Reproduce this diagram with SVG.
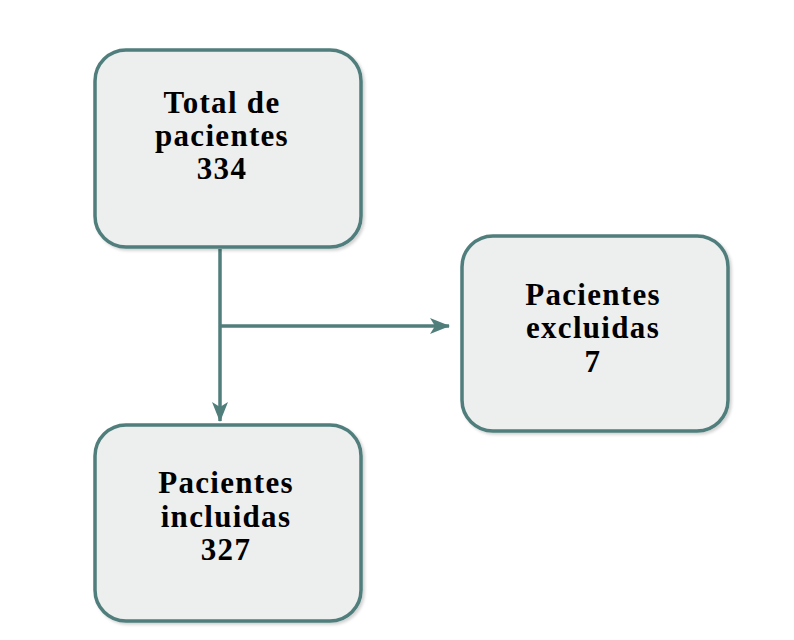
<svg xmlns="http://www.w3.org/2000/svg" width="794" height="640" viewBox="0 0 794 640">
<style>
.box{fill:#edeeee;stroke:#4f7e7b;stroke-width:3.5}
.lbl{font-family:"Liberation Serif","Times New Roman",serif;font-weight:bold;font-size:31px;letter-spacing:1.3px;fill:#000;text-anchor:middle}
.conn{stroke:#4f7e7b;stroke-width:3.5;fill:none}
</style>
<defs>
<filter id="sh" x="-10%" y="-10%" width="120%" height="120%">
<feDropShadow dx="2" dy="2" stdDeviation="1.5" flood-color="#000" flood-opacity="0.18"/>
</filter>
<marker id="ah" viewBox="0 0 20 16" refX="19" refY="8" markerWidth="20" markerHeight="16" markerUnits="userSpaceOnUse" orient="auto">
<path d="M0,0 L20,8 L0,16 L5,8 Z" fill="#4f7e7b"/>
</marker>
</defs>
<rect width="794" height="640" fill="#fff"/>
<g id="connectors">
<path class="conn" d="M220,249 L220,421" marker-end="url(#ah)"/>
<path class="conn" d="M220,326 L449,326" marker-end="url(#ah)"/>
</g>
<g id="total">
<rect class="box" x="95" y="50" width="266" height="197" rx="31" filter="url(#sh)"/>
<text class="lbl" x="222" y="113">Total de</text>
<text class="lbl" x="222" y="146">pacientes</text>
<text class="lbl" x="222" y="179">334</text>
</g>
<g id="excluidas">
<rect class="box" x="462" y="236" width="266" height="195" rx="31" filter="url(#sh)"/>
<text class="lbl" x="593" y="305">Pacientes</text>
<text class="lbl" x="593" y="338">excluidas</text>
<text class="lbl" x="593" y="372">7</text>
</g>
<g id="incluidas">
<rect class="box" x="95" y="425" width="266" height="196" rx="31" filter="url(#sh)"/>
<text class="lbl" x="226" y="493">Pacientes</text>
<text class="lbl" x="226" y="527">incluidas</text>
<text class="lbl" x="226" y="560">327</text>
</g>
</svg>
